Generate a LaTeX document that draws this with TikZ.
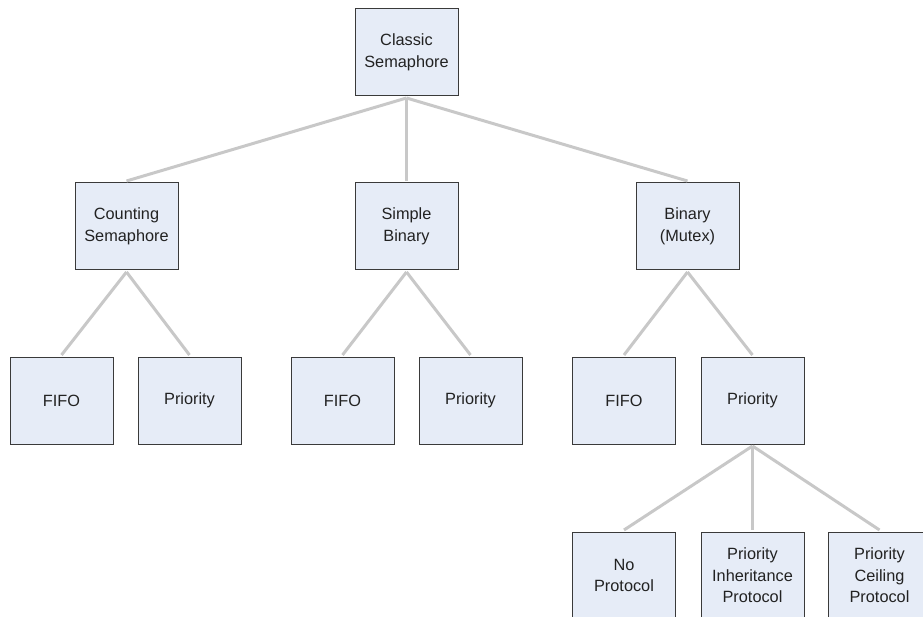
\documentclass[tikz,border=0pt]{standalone}
\usepackage{fontspec}
\setmainfont{Liberation Sans}
\definecolor{boxfill}{HTML}{E6ECF7}
\definecolor{boxline}{HTML}{3A3A3A}
\definecolor{linkgray}{HTML}{C8C8C8}
\definecolor{txt}{HTML}{222222}
\begin{document}
\begin{tikzpicture}[x=1pt,y=-1pt,
  box/.style={draw=boxline, line width=1pt, fill=boxfill, minimum width=103pt, minimum height=87pt,
    inner sep=0pt, align=center, text=txt, font=\fontsize{16.3}{21.5}\selectfont},
  link/.style={draw=linkgray, line width=3pt}]
\clip (0,0) rectangle (923,617);
\useasboundingbox (0,0) rectangle (923,617);
\node[box] (classic) at (406.5,52.5) {Classic\\Semaphore};
\node[box] (counting) at (126.5,226.5) {Counting\\Semaphore};
\node[box] (simple) at (406.5,226.5) {Simple\\Binary};
\node[box] (binary) at (687.5,226.5) {Binary\\(Mutex)};
\node[box] (fifoA) at (61.5,400.5) {FIFO};
\node[box] (prioA) at (189.5,400.5) {Priority};
\node[box] (fifoB) at (342.5,400.5) {FIFO};
\node[box] (prioB) at (470.5,400.5) {Priority};
\node[box] (fifoC) at (624,400.5) {FIFO};
\node[box] (prioC) at (752.5,400.5) {Priority};
\node[box] (noproto) at (624,575.5) {No\\Protocol};
\node[box] (inherit) at (752.5,575.5) {Priority\\Inheritance\\Protocol};
\node[box] (ceiling) at (879.5,575.5) {Priority\\Ceiling\\Protocol};
\foreach \p/\c in {classic/counting, classic/simple, classic/binary,
  counting/fifoA, counting/prioA, simple/fifoB, simple/prioB,
  binary/fifoC, binary/prioC, prioC/noproto, prioC/inherit, prioC/ceiling}
  \draw[link] ([yshift=-1.5pt]\p.south) -- ([yshift=1.5pt]\c.north);
\end{tikzpicture}
\end{document}
